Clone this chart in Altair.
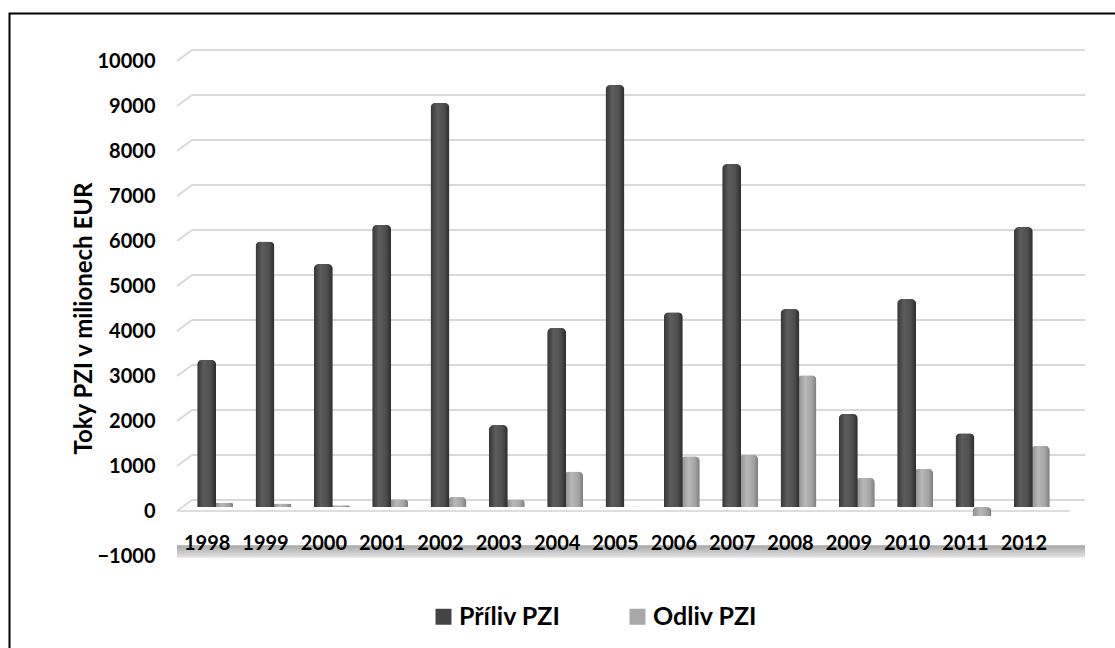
import altair as alt
import pandas as pd

years = ["1998", "1999", "2000", "2001", "2002", "2003", "2004", "2005",
         "2006", "2007", "2008", "2009", "2010", "2011", "2012"]
priliv = [3270, 5900, 5400, 6270, 8980, 1820, 3980, 9380, 4330, 7620, 4400, 2070, 4620, 1640, 6220]
odliv = [100, 80, 40, 170, 220, 160, 790, 10, 1130, 1160, 2930, 650, 850, -200, 1360]
series_names = ["Příliv PZI", "Odliv PZI"]
y_ticks = [-1000, 0, 1000, 2000, 3000, 4000, 5000, 6000, 7000, 8000, 9000, 10000]
grid_vals = [0, 1000, 2000, 3000, 4000, 5000, 6000, 7000, 8000, 9000, 10000]

FONT = "Lato"
Y_TITLE = "Toky PZI v milionech EUR"

df_in = pd.DataFrame({"year": years, "value": priliv})
df_out = pd.DataFrame({"year": years, "value": odliv})
df_leg = pd.DataFrame({"year": years[:2], "value": [0, 0], "series": series_names})
df_grid = pd.DataFrame({"value": grid_vals})
df_zero = pd.DataFrame({"value": [0]})
df_floor = pd.DataFrame({"value": [-850], "bottom": [-1130]})

yscale = alt.Scale(domain=[-1000, 10000], nice=False, zero=False)
xscale = alt.Scale(domain=years, paddingInner=0, paddingOuter=0)

X_AXIS = alt.Axis(orient="bottom", title=None, domain=False, ticks=False,
                  tickSize=0, grid=False, labelAngle=0, labelFont=FONT,
                  labelFontWeight="bold", labelFontSize=20, labelColor="#000000",
                  labelBaseline="top", labelPadding=0, offset=-19, labelOffset=-8,
                  zindex=1)
Y_AXIS = alt.Axis(values=y_ticks, format="d", title=Y_TITLE,
                  domain=False, ticks=False, tickSize=0, grid=False,
                  labelFont=FONT, labelFontWeight="bold", labelFontSize=20,
                  labelColor="#000000", labelPadding=31, labelOffset=4,
                  titleFont=FONT, titleFontWeight="bold", titleFontSize=24,
                  titleColor="#000000", titleAngle=-90, titleX=-102, titleY=261,
                  titleAlign="center", titleBaseline="middle", zindex=1)


def xe():
    return alt.X("year:N", scale=xscale, axis=X_AXIS, title=None)


def ye():
    return alt.Y("value:Q", scale=yscale, axis=Y_AXIS, title=Y_TITLE)


dark_grad = alt.LinearGradient(gradient="linear", x1=0, x2=1, y1=0, y2=0, stops=[
    alt.GradientStop(color="#353535", offset=0),
    alt.GradientStop(color="#5c5c5c", offset=0.35),
    alt.GradientStop(color="#505050", offset=0.7),
    alt.GradientStop(color="#2c2c2c", offset=1)])
light_grad = alt.LinearGradient(gradient="linear", x1=0, x2=1, y1=0, y2=0, stops=[
    alt.GradientStop(color="#8a8a8a", offset=0),
    alt.GradientStop(color="#b8b8b8", offset=0.4),
    alt.GradientStop(color="#a4a4a4", offset=0.75),
    alt.GradientStop(color="#7c7c7c", offset=1)])
floor_grad = alt.LinearGradient(gradient="linear", x1=0, x2=0, y1=0, y2=1, stops=[
    alt.GradientStop(color="#a6a6a6", offset=0),
    alt.GradientStop(color="#e6e6e6", offset=1)])

# outer frame (decoration)
frame = alt.Chart(df_zero).mark_rect(fill=None, stroke="#000000", strokeWidth=2).encode(
    x=alt.value(-176.5), x2=alt.value(960), y=alt.value(-43.5), y2=alt.value(700))

# back wall gridlines
grid_h = alt.Chart(df_grid).mark_rule(color="#d9d9d9", strokeWidth=2, yOffset=-7).encode(
    y=ye(), x=alt.value(6), x2=alt.value(899))
grid_d = alt.Chart(df_grid).mark_rule(color="#d9d9d9", strokeWidth=2, yOffset=4, y2Offset=-7).encode(
    y=ye(), y2="value", x=alt.value(-9), x2=alt.value(6))

# floor
floor_line = alt.Chart(df_zero).mark_rule(color="#dddddd", strokeWidth=2, yOffset=4).encode(
    y=ye(), x=alt.value(-9), x2=alt.value(884))
floor_band = alt.Chart(df_floor).mark_rect(color=floor_grad).encode(
    y=ye(), y2="bottom", x=alt.value(-9), x2=alt.value(899))

bars_out = alt.Chart(df_out).mark_bar(size=19, xOffset=8.5, cornerRadiusEnd=5,
                                       color=light_grad).encode(x=xe(), y=ye())
bars_in = alt.Chart(df_in).mark_bar(size=19, xOffset=-8.5, cornerRadiusEnd=5,
                                     color=dark_grad).encode(x=xe(), y=ye())

legend_layer = alt.Chart(df_leg).mark_square(opacity=0, size=1).encode(
    x=xe(), y=ye(),
    color=alt.Color("series:N", scale=alt.Scale(domain=series_names, range=["#444444", "#a8a8a8"]),
                    legend=alt.Legend(orient="none", legendX=245, legendY=547, direction="horizontal",
                                      title=None, symbolType="square", symbolSize=256,
                                      symbolOpacity=1, symbolStrokeWidth=0,
                                      labelFont=FONT, labelFontWeight="bold", labelFontSize=25,
                                      labelColor="#000000", labelOffset=3, columnPadding=64,
                                      padding=0)))

chart = alt.layer(floor_band, grid_h, grid_d, floor_line,
                  bars_out, bars_in, legend_layer, frame).properties(
    width=875, height=495,
    autosize=alt.AutoSizeParams(type="none"),
    padding={"left": 186, "top": 57, "right": 54, "bottom": 96},
    background="#ffffff",
).configure_view(stroke=None)

chart.save("out.html", embed_options={"renderer": "svg", "actions": False})
